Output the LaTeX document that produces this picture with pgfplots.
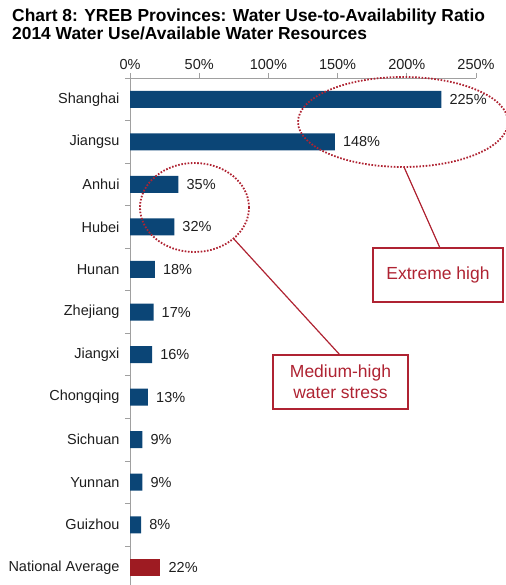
\documentclass[border=0pt]{standalone}
\usepackage{fontspec}
\setmainfont{Liberation Sans}
\usepackage{pgfplots}
\pgfplotsset{compat=1.18}
\definecolor{barblue}{RGB}{11,69,118}
\definecolor{barred}{RGB}{158,27,34}
\definecolor{annot}{RGB}{175,35,50}
\definecolor{axgray}{RGB}{160,160,160}
\definecolor{txt}{RGB}{30,30,30}
\begin{document}
\begin{tikzpicture}
\path[use as bounding box] (0,0) rectangle (506bp,585bp);
\node[anchor=base west, font=\fontsize{17.4bp}{18bp}\selectfont\bfseries, inner sep=0] at (12bp,563bp) {Chart 8: YREB Provinces: Water Use-to-Availability Ratio};
\node[anchor=base west, font=\fontsize{17.4bp}{18bp}\selectfont\bfseries, inner sep=0] at (12bp,545bp) {2014 Water Use/Available Water Resources};
\begin{axis}[
  at={(130bp,507bp)}, anchor=north west,
  scale only axis, width=346bp, height=510.6bp,
  xmin=0, xmax=250, ymin=-0.5, ymax=11.5,
  clip=false,
  xbar, bar width=17bp, bar shift=0pt,
  axis x line*=top, axis y line*=left,
  axis line style={axgray, line width=0.8bp, -},
  xtick={0,50,...,250},
  xticklabel={\pgfmathprintnumber{\tick}\%},
  ytick={0,...,11},
  yticklabels={National Average,Guizhou,Yunnan,Sichuan,Chongqing,Jiangxi,Zhejiang,Hunan,Hubei,Anhui,Jiangsu,Shanghai},
  minor ytick={-0.5,0.5,...,11.5},
  tick align=outside,
  major tick length=5bp, minor tick length=5bp,
  tick style={axgray, line width=0.8bp},
  every major y tick/.append style={draw=none},
  /pgf/number format/assume math mode=true,
  tick label style={font=\fontsize{14.5bp}{16bp}\selectfont, text=txt},
  yticklabel style={xshift=-2bp},
  point meta=x,
  nodes near coords={\pgfmathprintnumber{\pgfplotspointmeta}\%},
  every node near coord/.append style={font=\fontsize{14.5bp}{16bp}\selectfont, text=txt, anchor=west, inner sep=0pt, xshift=8bp},
]
\addplot[fill=barblue, draw=none] coordinates {(225,11) (148,10) (35,9) (32,8) (18,7) (17,6) (16,5) (13,4) (9,3) (9,2) (8,1)};
\addplot[fill=barred, draw=none] coordinates {(22,0)};
\end{axis}
% annotations
\begin{scope}[annot]
\draw[line width=1.8bp, dash pattern=on 1.6bp off 1.6bp] (403bp,463bp) ellipse [x radius=105bp, y radius=45bp];
\draw[line width=1.8bp, dash pattern=on 1.6bp off 1.6bp] (194.5bp,377.5bp) ellipse [x radius=54.5bp, y radius=44.5bp];
\draw[line width=1.2bp] (404bp,418bp) -- (440bp,337bp);
\draw[line width=1.2bp] (233bp,347bp) -- (340bp,230bp);
\draw[line width=1.2bp, fill=white] (373bp,283bp) rectangle (503bp,337bp);
\draw[line width=1.2bp, fill=white] (273bp,176bp) rectangle (408bp,230bp);
\node[font=\fontsize{17.5bp}{21bp}\selectfont, text=annot, align=center] at (438bp,310bp) {Extreme high};
\node[font=\fontsize{17.5bp}{21bp}\selectfont, text=annot, align=center] at (340.5bp,203bp) {Medium-high\\water stress};
\end{scope}
\end{tikzpicture}
\end{document}
